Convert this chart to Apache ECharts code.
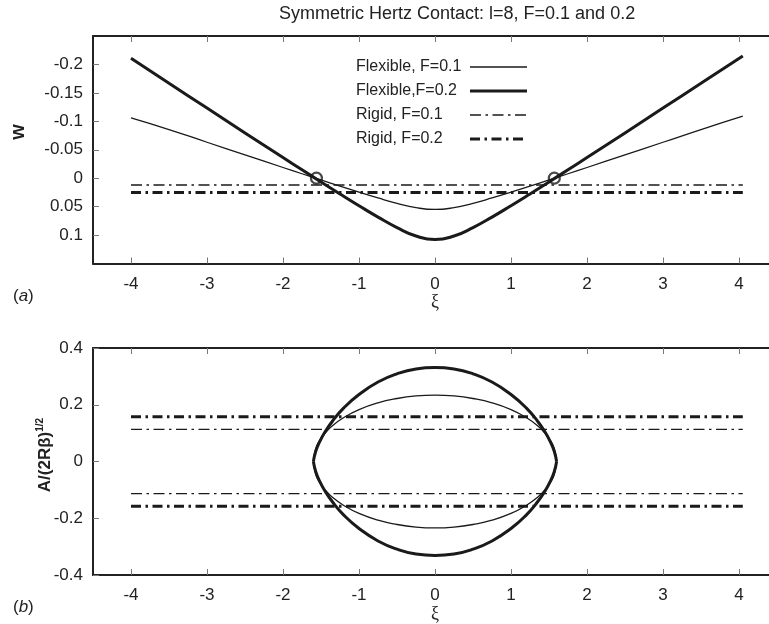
<!DOCTYPE html>
<html>
<head>
<meta charset="utf-8">
<script src="https://cdn.jsdelivr.net/npm/echarts@6/dist/echarts.min.js"></script>
<style>
  html, body { margin: 0; padding: 0; background: #fff; }
  #chart { width: 769px; height: 624px; }
</style>
</head>
<body>
<div id="chart"></div>
<script>
// ---- Panel (a): deflection w along the beam ----
const xiFlex = [-4, -3.5, -3, -2.5, -2, -1.75, -1.5, -1.25, -1, -0.75, -0.5, -0.25, 0,
                0.25, 0.5, 0.75, 1, 1.25, 1.5, 1.75, 2, 2.5, 3, 3.5, 4.05];
const wFlexF01 = [-0.106, -0.0855, -0.0632, -0.0409, -0.0188, -0.0078, 0.0031, 0.0139, 0.0245, 0.0347, 0.0442, 0.0518, 0.055,
                  0.0518, 0.0442, 0.0347, 0.0245, 0.0139, 0.0031, -0.0078, -0.0188, -0.0409, -0.0632, -0.0855, -0.109];
const wFlexF02 = [-0.211, -0.1668, -0.1232, -0.0796, -0.0363, -0.0148, 0.0066, 0.0277, 0.0484, 0.0684, 0.0869, 0.1017, 0.108,
                  0.1017, 0.0869, 0.0684, 0.0484, 0.0277, 0.0066, -0.0148, -0.0363, -0.0796, -0.1232, -0.1668, -0.215];
const xiRigid = [-4, 4.05];
const wRigidF01 = [0.012, 0.012];
const wRigidF02 = [0.025, 0.025];
const contactXi = [-1.56, 1.57];
const contactW = [0, 0];

// ---- Panel (b): contact half-width A/(2Rβ)^{1/2} ----
const xiLoop = [-1.6, -1.57, -1.52, -1.45, -1.35, -1.2, -1, -0.75, -0.5, -0.25, 0,
                0.25, 0.5, 0.75, 1, 1.2, 1.35, 1.45, 1.52, 1.57, 1.6];
const aFlexF01Upper = [0, 0.045, 0.073, 0.099, 0.126, 0.155, 0.183, 0.207, 0.222, 0.231, 0.234,
                       0.231, 0.222, 0.207, 0.183, 0.155, 0.126, 0.099, 0.073, 0.045, 0];
const aFlexF01Lower = [0, -0.045, -0.073, -0.099, -0.126, -0.155, -0.183, -0.207, -0.222, -0.231, -0.234,
                       -0.231, -0.222, -0.207, -0.183, -0.155, -0.126, -0.099, -0.073, -0.045, 0];
const aFlexF02Upper = [0, 0.035, 0.068, 0.103, 0.142, 0.189, 0.236, 0.280, 0.309, 0.326, 0.331,
                       0.326, 0.309, 0.280, 0.236, 0.189, 0.142, 0.103, 0.068, 0.035, 0];
const aFlexF02Lower = [0, -0.035, -0.068, -0.103, -0.142, -0.189, -0.236, -0.280, -0.309, -0.326, -0.331,
                       -0.326, -0.309, -0.280, -0.236, -0.189, -0.142, -0.103, -0.068, -0.035, 0];
const aRigidF01Upper = [0.113, 0.113];
const aRigidF01Lower = [-0.113, -0.113];
const aRigidF02Upper = [0.158, 0.158];
const aRigidF02Lower = [-0.158, -0.158];

// ---- Tick positions ----
const xTicks = [-4, -3, -2, -1, 0, 1, 2, 3, 4];
const wTicks = [-0.2, -0.15, -0.1, -0.05, 0, 0.05, 0.1];
const aTicks = [-0.4, -0.2, 0, 0.2, 0.4];

const seriesNames = ['Flexible, F=0.1', 'Flexible,F=0.2', 'Rigid, F=0.1', 'Rigid, F=0.2'];

const INK = '#1a1a1a';
const FONT = 'Liberation Sans, Arial, sans-serif';
const thinW = 1.3, thickW = 3;
const dashThin = [11, 4.5, 2.5, 4.5];
const dashThick = [10, 4.5, 2.5, 4.5];

function pairs(xs, ys) { return xs.map((x, i) => [x, ys[i]]); }

function lineSeries(name, xIdx, yIdx, xs, ys, width, dash) {
  return {
    name: name, type: 'line', xAxisIndex: xIdx, yAxisIndex: yIdx,
    data: pairs(xs, ys), symbol: 'none', smooth: dash ? false : 0.5,
    silent: true, animation: false,
    lineStyle: { color: INK, width: width, type: dash || 'solid', cap: 'butt' },
    itemStyle: { color: INK },
    emphasis: { disabled: true }
  };
}

function bottomAxis(gridIndex) {
  return {
    type: 'value', gridIndex: gridIndex, position: 'bottom', min: -4.5, max: 4.5,
    name: 'ξ', nameLocation: 'middle', nameGap: 28,
    nameTextStyle: { fontFamily: 'Liberation Serif, DejaVu Serif, serif', fontSize: 18, color: '#222' },
    axisLine: { show: true, onZero: false, lineStyle: { color: '#222', width: 2 } },
    axisTick: { show: true, inside: true, length: 6, customValues: xTicks, lineStyle: { color: '#777', width: 1 } },
    axisLabel: { show: true, customValues: xTicks, margin: 12, fontFamily: FONT, fontSize: 17, color: '#222',
                 formatter: v => String(v) },
    splitLine: { show: false }
  };
}
function topAxis(gridIndex) {
  return {
    type: 'value', gridIndex: gridIndex, position: 'top', min: -4.5, max: 4.5,
    axisLine: { show: true, onZero: false, lineStyle: { color: '#222', width: 2 } },
    axisTick: { show: true, inside: true, length: 6, customValues: xTicks, lineStyle: { color: '#777', width: 1 } },
    axisLabel: { show: false },
    splitLine: { show: false }
  };
}

const chart = echarts.init(document.getElementById('chart'), null, { renderer: 'canvas' });

const option = {
  backgroundColor: '#fff',
  animation: false,
  title: {
    text: 'Symmetric Hertz Contact: l=8, F=0.1 and 0.2',
    left: 279, top: 5, padding: 0,
    textStyle: { fontFamily: FONT, fontSize: 18, fontWeight: 'normal', color: '#222' }
  },
  legend: {
    data: seriesNames,
    orient: 'vertical', align: 'right',
    left: 356, top: 59, padding: 0,
    itemWidth: 57, itemHeight: 14, itemGap: 8,
    selectedMode: false,
    itemStyle: { color: 'rgba(0,0,0,0)', borderWidth: 0, opacity: 0 },
    lineStyle: { width: 'inherit', type: 'inherit' },
    formatter: name => '{t|' + name + '}',
    textStyle: {
      fontFamily: FONT, fontSize: 16, color: '#222',
      rich: { t: { width: 109, align: 'left', fontFamily: FONT, fontSize: 16, color: '#222' } }
    }
  },
  // the frame runs past the right edge of the canvas
  grid: [
    { left: 93, width: 684, top: 36, height: 227.5, outerBoundsMode: 'none', containLabel: false },
    { left: 93, width: 684, top: 348, height: 227, outerBoundsMode: 'none', containLabel: false }
  ],
  xAxis: [bottomAxis(0), topAxis(0), bottomAxis(1), topAxis(1)],
  yAxis: [
    {
      type: 'value', gridIndex: 0, inverse: true, min: -0.25, max: 0.15,
      axisLine: { show: true, onZero: false, lineStyle: { color: '#222', width: 2 } },
      axisTick: { show: true, inside: true, length: 6, customValues: wTicks, lineStyle: { color: '#777', width: 1 } },
      axisLabel: { customValues: wTicks, margin: 10, fontFamily: FONT, fontSize: 17, color: '#222',
                   formatter: v => String(v) },
      splitLine: { show: false }
    },
    {
      type: 'value', gridIndex: 1, min: -0.4, max: 0.4,
      axisLine: { show: true, onZero: false, lineStyle: { color: '#222', width: 2 } },
      axisTick: { show: true, inside: true, length: 6, customValues: aTicks, lineStyle: { color: '#777', width: 1 } },
      axisLabel: { customValues: aTicks, margin: 10, fontFamily: FONT, fontSize: 17, color: '#222',
                   formatter: v => String(v) },
      splitLine: { show: false }
    }
  ],
  graphic: [
    { type: 'text', x: 18, y: 132, rotation: Math.PI / 2,
      style: { text: 'w', font: 'bold 20px ' + FONT, fill: '#222', align: 'center', verticalAlign: 'middle' } },
    { type: 'text', x: 45, y: 455, rotation: Math.PI / 2,
      style: {
        text: '{a|A/(2Rβ)}{s|1/2}', align: 'center', verticalAlign: 'middle', fill: '#222',
        rich: {
          a: { fontFamily: FONT, fontWeight: 'bold', fontSize: 17, lineHeight: 20, fill: '#222' },
          s: { fontFamily: FONT, fontWeight: 'bold', fontSize: 10, lineHeight: 20, verticalAlign: 'top', fill: '#222' }
        }
      } },
    { type: 'text', x: 13, y: 296,
      style: {
        text: '{n|(}{i|a}{n|)}', verticalAlign: 'middle', fill: '#222',
        rich: {
          n: { fontFamily: FONT, fontSize: 17, fill: '#222' },
          i: { fontFamily: FONT, fontStyle: 'italic', fontSize: 17, fill: '#222' }
        }
      } },
    { type: 'text', x: 13, y: 607,
      style: {
        text: '{n|(}{i|b}{n|)}', verticalAlign: 'middle', fill: '#222',
        rich: {
          n: { fontFamily: FONT, fontSize: 17, fill: '#222' },
          i: { fontFamily: FONT, fontStyle: 'italic', fontSize: 17, fill: '#222' }
        }
      } }
  ],
  series: [
    // panel (a)
    lineSeries(seriesNames[0], 0, 0, xiFlex, wFlexF01, thinW),
    lineSeries(seriesNames[1], 0, 0, xiFlex, wFlexF02, thickW),
    lineSeries(seriesNames[2], 0, 0, xiRigid, wRigidF01, thinW, dashThin),
    lineSeries(seriesNames[3], 0, 0, xiRigid, wRigidF02, thickW, dashThick),
    {
      type: 'scatter', xAxisIndex: 0, yAxisIndex: 0, data: pairs(contactXi, contactW),
      symbol: 'circle', symbolSize: 11, silent: true, z: 5,
      itemStyle: { color: 'rgba(0,0,0,0)', borderColor: INK, borderWidth: 2.2 },
      emphasis: { disabled: true }
    },
    // panel (b)
    lineSeries(seriesNames[0], 2, 1, xiLoop, aFlexF01Upper, thinW),
    lineSeries(seriesNames[0], 2, 1, xiLoop, aFlexF01Lower, thinW),
    lineSeries(seriesNames[1], 2, 1, xiLoop, aFlexF02Upper, thickW),
    lineSeries(seriesNames[1], 2, 1, xiLoop, aFlexF02Lower, thickW),
    lineSeries(seriesNames[2], 2, 1, xiRigid, aRigidF01Upper, thinW, dashThin),
    lineSeries(seriesNames[2], 2, 1, xiRigid, aRigidF01Lower, thinW, dashThin),
    lineSeries(seriesNames[3], 2, 1, xiRigid, aRigidF02Upper, thickW, dashThick),
    lineSeries(seriesNames[3], 2, 1, xiRigid, aRigidF02Lower, thickW, dashThick)
  ]
};

chart.setOption(option);
</script>
</body>
</html>
